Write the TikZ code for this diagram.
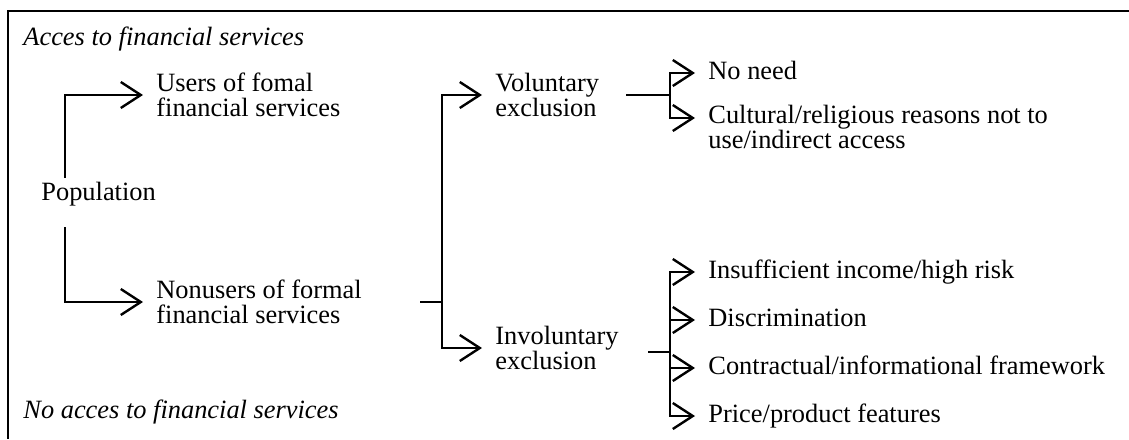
\documentclass[tikz,border=0pt]{standalone}
\usepackage{fontspec}
\setmainfont{Liberation Serif}
\usetikzlibrary{arrows.meta}

\begin{document}
\begin{tikzpicture}
    [
    x=0.5pt,y=-0.5pt,
    every node/.style={font=\fontsize{13.2}{12.5}\selectfont,inner xsep=6.5pt,inner ysep=2pt,anchor=west,align=left},
    leaf/.style={text height=9pt,text depth=2.9pt},
    note/.style={anchor=base west,inner xsep=0pt,font=\fontsize{13.2}{12.5}\selectfont\itshape},
    frame/.style={draw,line width=1.4pt},
    link/.style={draw,line width=1.2pt},
    arr/.style={link,-{Straight Barb[length=10pt,width=13pt]}},
    ]
    \useasboundingbox (0,0) rectangle (1129,439);
    \draw[frame] (1129,11) -- (8,11) -- (8,439);
    \node[note] (acc) at (23,45) {Acces to financial services};
    \node[note] (noacc) at (23,418) {No acces to financial services};

    % population
    \node[leaf,anchor=base west] (pop) at (28,200) {Population};
    \node (users) at (143,95) {Users of fomal\\financial services};
    \node (nonusers) at (143,302) {Nonusers of formal\\financial services};
    \draw[arr] ([xshift=18.5pt]pop.north west) |- (users.west);
    \draw[arr] ([xshift=18.5pt,yshift=-8.6pt]pop.south west) |- (nonusers.west);

    % nonusers
    \coordinate (nu) at (420,302);
    \coordinate (nj) at (442,302);
    \node (vol) at (482,95) {Voluntary\\exclusion};
    \node (invol) at (482,348) {Involuntary\\exclusion};
    \draw[link] (nu) -- (nj);
    \draw[arr] (nj) |- (vol.west);
    \draw[arr] (nj) |- (invol.west);

    % voluntary
    \coordinate (vs) at (626,95);
    \coordinate (vj) at (670,95);
    \node[leaf] (noneed) at (695,73) {No need};
    \node[anchor=north west] (cult) at (695,101) {Cultural/religious reasons not to\\use/indirect access};
    \draw[link] (vs) -- (vj);
    \draw[arr] (vj) |- (noneed.west);
    \draw[arr] (vj) |- ([yshift=-8.5pt]cult.north west);

    % involuntary
    \coordinate (is) at (648,352);
    \coordinate (ij) at (670,352);
    \node[leaf] (insuff) at (695,272) {Insufficient income/high risk};
    \node[leaf] (discr) at (695,320) {Discrimination};
    \node[leaf] (contr) at (695,368) {Contractual/informational framework};
    \node[leaf] (price) at (695,416) {Price/product features};
    \draw[link] (is) -- (ij);
    \draw[arr] (ij) |- (insuff.west);
    \draw[arr] (ij) |- (discr.west);
    \draw[arr] (ij) |- (contr.west);
    \draw[arr] (ij) |- (price.west);
\end{tikzpicture}
\end{document}
